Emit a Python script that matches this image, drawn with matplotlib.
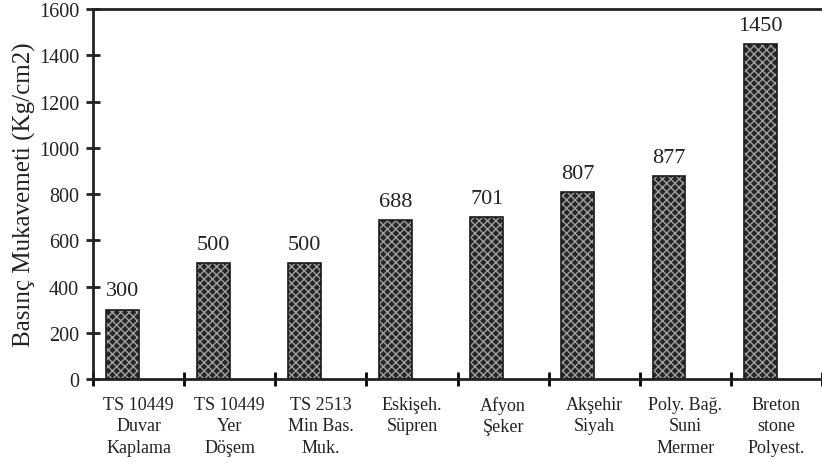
# basinc mukavemeti bar chart

import matplotlib.pyplot as plt
import numpy as np

categories = ['TS 10449\nDuvar\nKaplama', 'TS 10449\nYer\nDöşem', 'TS 2513\nMin Bas.\nMuk.',
              'Eskişeh.\nSüpren', 'Afyon\nŞeker', 'Akşehir\nSiyah',
              'Poly. Bağ.\nSuni\nMermer', 'Breton\nstone\nPolyest.']
values = [300, 500, 500, 688, 701, 807, 877, 1450]
y_ticks = [0, 200, 400, 600, 800, 1000, 1200, 1400, 1600]

plt.rcParams['font.family'] = ['Liberation Serif', 'DejaVu Serif']

fig = plt.figure(figsize=(8.22, 4.64), dpi=100)
ax = fig.add_axes([0.1131, 0.181, 0.887, 0.797])

x = np.arange(len(values))
bar_x = x + 0.32
# hatched fill, then a separate black outline
ax.bar(bar_x, values, width=0.36, color='#262626', edgecolor='#a0a0a0',
       hatch='xxxx', linewidth=0)
ax.bar(bar_x, values, width=0.36, fill=False, edgecolor='#1a1a1a', linewidth=1.2)

for bx, v in zip(bar_x, values):
    ax.text(bx, v + 40, str(v), ha='center', va='bottom', fontsize=16, color='#222222')

ax.set_xlim(0, 8)
ax.set_ylim(0, 1600)
ax.set_yticks(y_ticks)
ax.tick_params(axis='y', direction='inout', length=10, width=2, labelsize=14.5,
               pad=5, colors='#222222')

ax.set_xticks(np.arange(0, 9))
ax.set_xticklabels([])
ax.set_xticks(x + 0.5, minor=True)
ax.set_xticklabels(categories, minor=True, fontsize=13, linespacing=1.35)
ax.tick_params(axis='x', which='major', direction='inout', length=10, width=2)
ax.tick_params(axis='x', which='minor', length=0, pad=12, colors='#222222')

ax.spines['right'].set_visible(False)
for s in ['left', 'top', 'bottom']:
    ax.spines[s].set_linewidth(2)
    ax.spines[s].set_color('#222222')

ax.set_ylabel('Basınç Mukavemeti (Kg/cm2)', fontsize=18, color='#222222', labelpad=2)

fig.savefig('out.png', dpi=100)
